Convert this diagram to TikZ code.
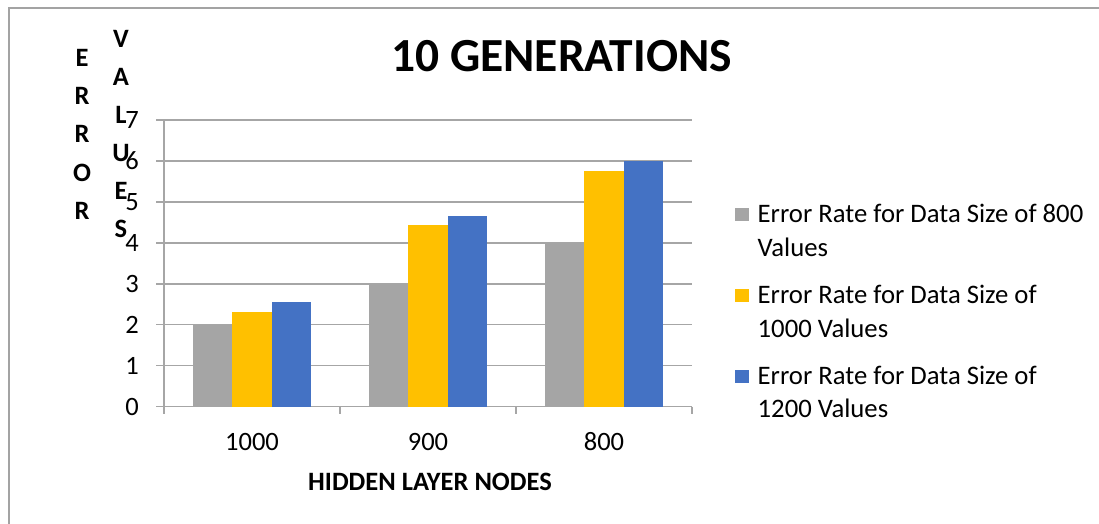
\documentclass[tikz,border=0pt]{standalone}
\usepackage{fontspec}
\setmainfont{Carlito}
\definecolor{sergray}{HTML}{A5A5A5}
\definecolor{seryellow}{HTML}{FFC000}
\definecolor{serblue}{HTML}{4472C4}
\definecolor{gridc}{HTML}{A6A6A6}
\definecolor{framec}{HTML}{A3A3A3}
\begin{document}
\begin{tikzpicture}[x=1pt,y=-1pt,
  gridline/.style={draw=gridc,line width=1.3pt},
  frameline/.style={draw=framec,line width=1.4pt},
  barbox/.style={fill=#1,draw=none},
  ticklabel/.style={font=\fontsize{26.5}{26.5}\selectfont,anchor=east,inner sep=0pt},
  catlabel/.style={font=\fontsize{26.5}{26.5}\selectfont,inner sep=0pt},
  axistitle/.style={font=\bfseries\fontsize{26.5}{26.5}\selectfont,inner sep=0pt},
  charttitle/.style={font=\bfseries\fontsize{47.5}{47.5}\selectfont,inner sep=0pt},
  legtext/.style={font=\fontsize{26.7}{26.7}\selectfont,anchor=base west,inner sep=0pt},
  legmark/.style={fill=#1,draw=none}]
\useasboundingbox (0,0) rectangle (1099,524);
% outer chart frame (top and left edges)
\draw[frameline] (9,524) -- (9,8) -- (1099,8);

% horizontal gridlines and value labels
\foreach \v in {0,...,7}{
  \draw[gridline] (156,{406.7-40.95*\v}) -- (692,{406.7-40.95*\v});
  \node[ticklabel] (tick\v) at (139,{406.7-40.95*\v}) {\v};
}
% value axis and category ticks
\draw[gridline] (164,{406.7-40.95*7}) -- (164,414);
\foreach \k in {1,2,3}{
  \draw[gridline] ({164+176*\k},406.7) -- ({164+176*\k},414);
}

% bars: group, series colour, value
\foreach \g/\a/\b/\c in {0/2/2.32/2.55, 1/3/4.43/4.66, 2/4/5.75/6}{
  \foreach \s/\val/\col in {0/\a/sergray, 1/\b/seryellow, 2/\c/serblue}{
    \fill[barbox=\col] ({164+176*\g+29.3+39.1*\s},406.7) rectangle
      ({164+176*\g+29.3+39.1*(\s+1)},{406.7-40.95*\val});
  }
}

% category labels
\node[catlabel] (cat1) at (252,442) {1000};
\node[catlabel] (cat2) at (428,442) {900};
\node[catlabel] (cat3) at (604,442) {800};

% axis titles
\node[axistitle] (xtitle) at (430,481.5) {HIDDEN LAYER NODES};
\foreach \l [count=\i from 0] in {E,R,R,O,R}{
  \node[axistitle] (err\i) at (82,{58+38.2*\i}) {\l};
}
\foreach \l [count=\i from 0] in {V,A,L,U,E,S}{
  \node[axistitle] (val\i) at (121,{39+38*\i}) {\l};
}

% chart title
\node[charttitle] (title) at (561.5,56) {10 GENERATIONS};

% legend
\foreach \i/\col/\one/\two in {0/sergray/Error Rate for Data Size of 800/Values,
    1/seryellow/Error Rate for Data Size of/1000 Values,
    2/serblue/Error Rate for Data Size of/1200 Values}{
  \fill[legmark=\col] (735,{222.5+80.8*\i-14.5}) rectangle (749,{222.5+80.8*\i-1.5});
  \node[legtext] (leg\i a) at (757.5,{222.5+80.8*\i}) {\one};
  \node[legtext] (leg\i b) at (757.5,{256.3+80.8*\i}) {\two};
}
\end{tikzpicture}
\end{document}
